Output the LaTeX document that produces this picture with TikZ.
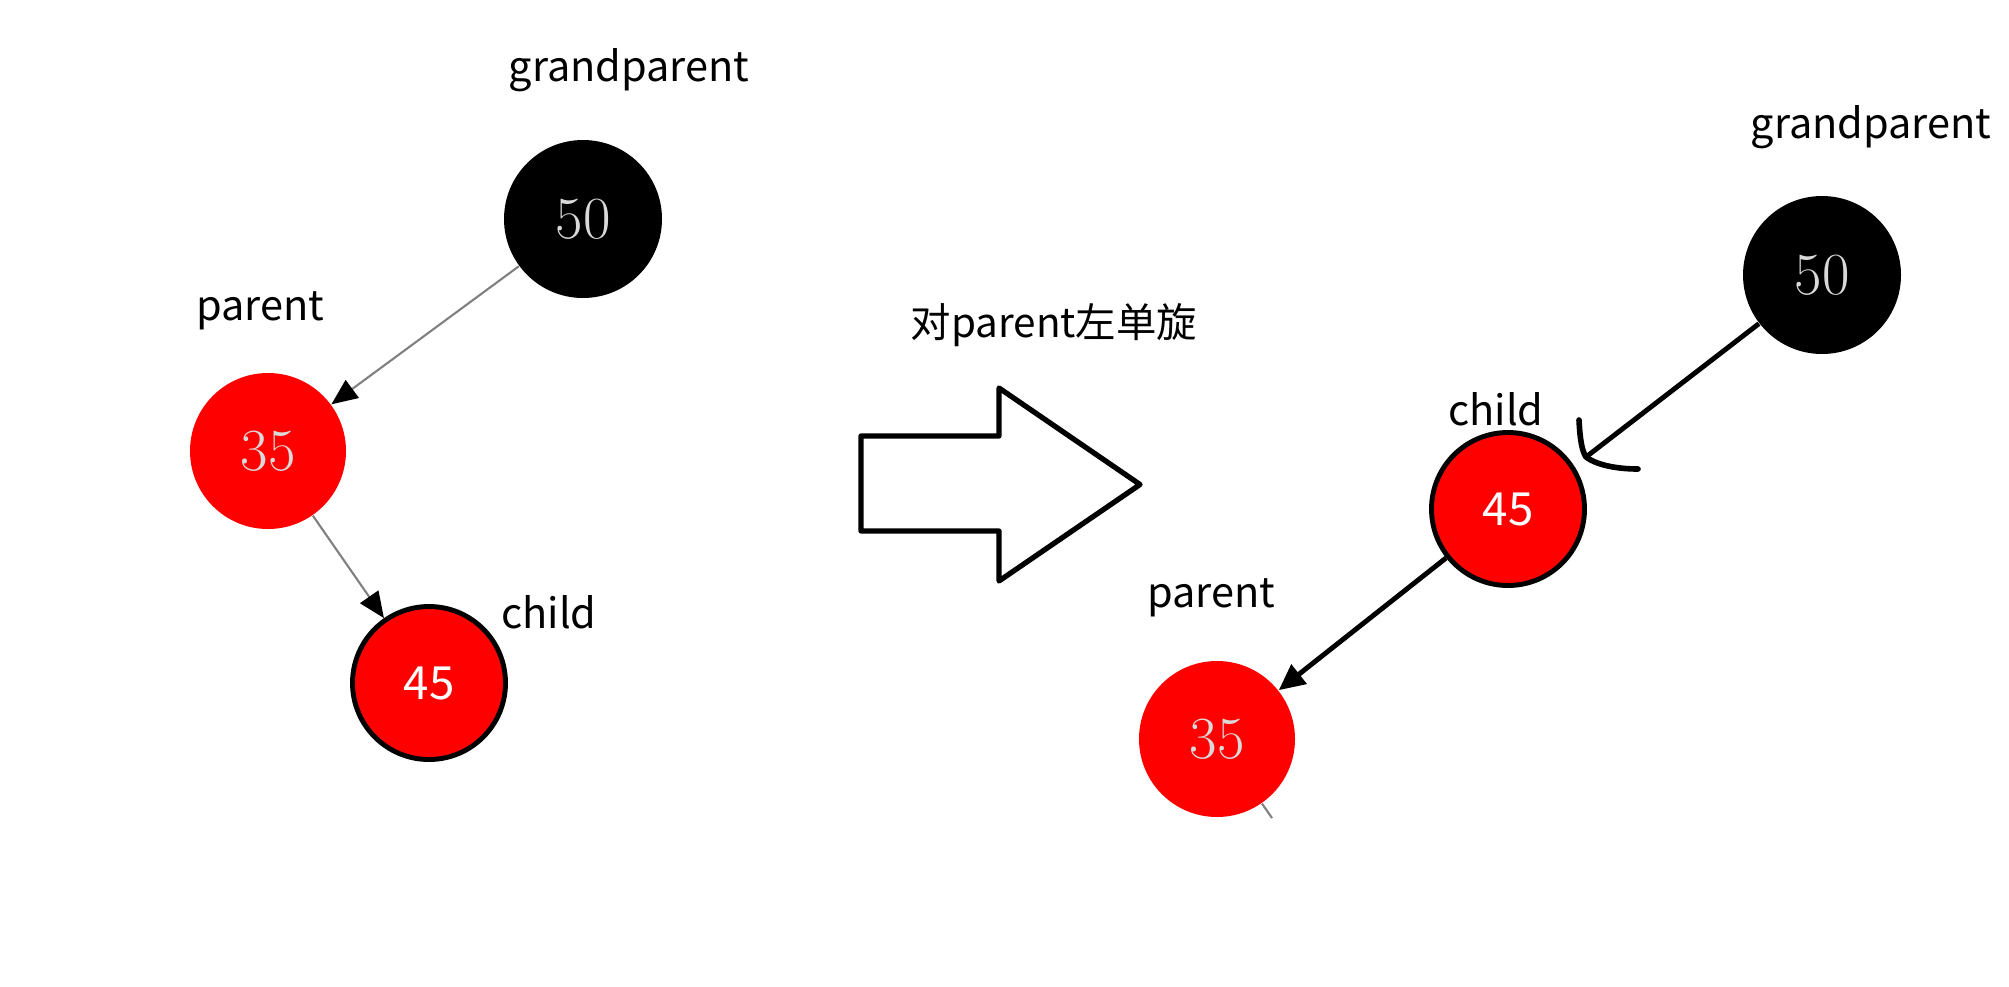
\documentclass[tikz,border=0pt]{standalone}
\usepackage{fontspec}
\newfontfamily\cjk{Noto Sans CJK SC}
\usetikzlibrary{arrows.meta}

\begin{document}
\begin{tikzpicture}[
    lbl/.style={font=\cjk\fontsize{11.8}{14}\selectfont, inner sep=0pt},
    blknode/.style={circle, fill=black, minimum size=1.58cm, inner sep=0pt,
                    text=white!85!black, font=\fontsize{17}{19}\selectfont},
    rednode/.style={circle, fill=red, minimum size=1.56cm, inner sep=0pt,
                    text=white!85!black, font=\fontsize{17}{19}\selectfont},
    redbox/.style={circle, fill=red, draw=black, line width=1.4pt,
                   minimum size=1.53cm, inner sep=0pt, text=white,
                   font=\cjk\fontsize{13}{15}\selectfont},
    grayedge/.style={draw=gray, line width=0.6pt,
                     -{Triangle[length=0.26cm, width=0.22cm, color=black]}},
    blackedge/.style={draw=black, line width=1.4pt,
                      -{Triangle[length=0.26cm, width=0.24cm]}},
  ]
  \useasboundingbox (0,0) rectangle (20.09,9.86);

  % before: left tree
  \node[lbl] (gpL) at (6.29,9.16) {grandparent};
  \node[blknode] (n50L) at (5.83,7.67) {50};
  \node[lbl] (pL) at (2.60,6.75) {parent};
  \node[rednode] (n35L) at (2.68,5.35) {35};
  \node[lbl] (cL) at (5.49,3.74) {child};
  \node[redbox] (n45L) at (4.29,3.03) {45};
  \draw[grayedge] (n50L) -- (n35L);
  \draw[grayedge] (n35L) -- (n45L);

  % rotation
  \node[lbl, font=\cjk\fontsize{11.5}{14}\selectfont] (rot) at (10.54,6.61) {对parent左单旋};
  \draw[line width=1.5pt, line join=round]
    (8.61,5.50) -- (9.99,5.50) -- (9.99,5.98) -- (11.40,5.015)
    -- (9.99,4.05) -- (9.99,4.55) -- (8.61,4.55) -- cycle;

  % after: right tree
  \node[lbl] (gpR) at (18.71,8.59) {grandparent};
  \node[blknode] (n50R) at (18.22,7.11) {50};
  \node[lbl] (cR) at (14.96,5.77) {child};
  \node[redbox] (n45R) at (15.08,4.77) {45};
  \node[lbl] (pR) at (12.11,3.88) {parent};
  \node[rednode] (n35R) at (12.17,2.47) {35};
  \coordinate (hook) at (15.86,5.29);
  \coordinate (cut) at (12.72,1.68);
  \draw[line width=1.4pt] (n50R) -- (hook);
  \draw[line width=1.6pt, line cap=round]
    (15.79,5.66) .. controls (15.80,5.46) and (15.82,5.35) .. (hook)
    .. controls (15.98,5.20) and (16.20,5.17) .. (16.38,5.17);
  \draw[blackedge] (n45R) -- (n35R);
  \draw[draw=gray, line width=0.6pt] (n35R) -- (cut);
\end{tikzpicture}
\end{document}
